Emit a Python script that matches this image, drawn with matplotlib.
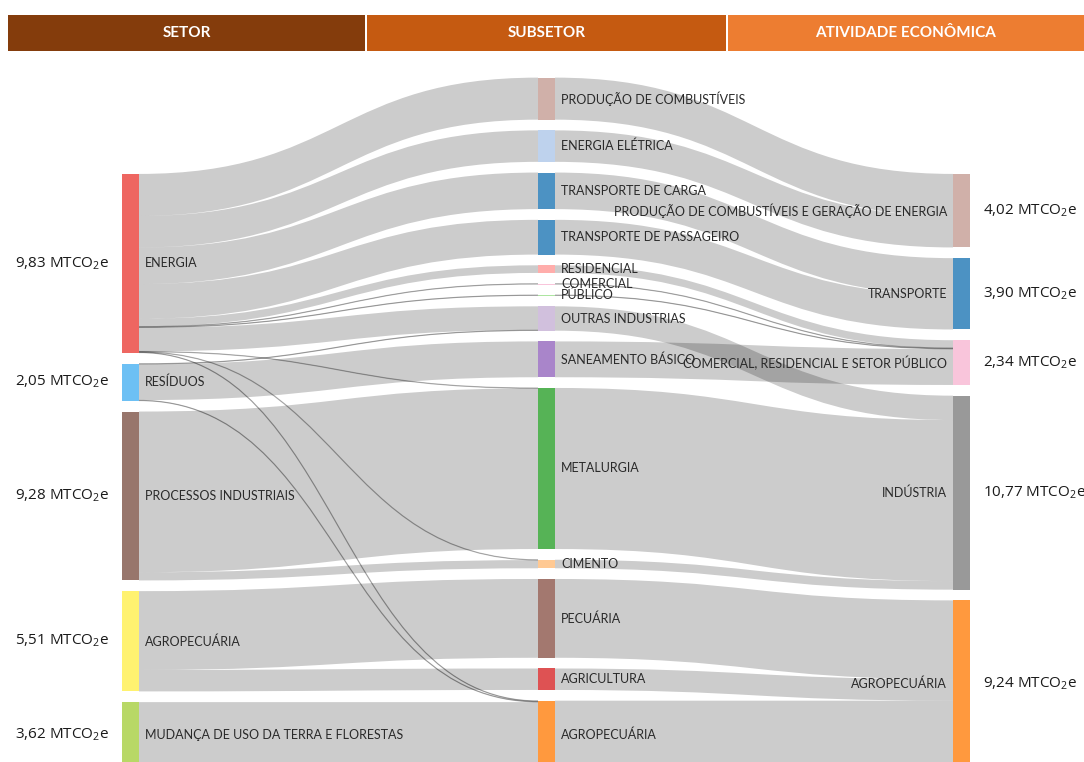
import matplotlib
matplotlib.use("Agg")
import matplotlib.pyplot as plt
from matplotlib.path import Path
from matplotlib.patches import PathPatch, Rectangle

plt.rcParams['font.family'] = ['Lato', 'DejaVu Sans']
plt.rcParams['mathtext.fontset'] = 'custom'
plt.rcParams['mathtext.rm'] = 'Open Sans'
plt.rcParams['mathtext.it'] = 'Open Sans'
plt.rcParams['mathtext.bf'] = 'Open Sans:bold'

# ---------------- data ----------------
headers = ["SETOR", "SUBSETOR", "ATIVIDADE ECONÔMICA"]
header_colors = ["#843C0C", "#C55A11", "#ED7D31"]

setores = ["ENERGIA", "RESÍDUOS", "PROCESSOS INDUSTRIAIS", "AGROPECUÁRIA",
           "MUDANÇA DE USO DA TERRA E FLORESTAS"]
setor_totais = ["9,83", "2,05", "9,28", "5,51", "3,62"]
setor_cores = ["#EE6661", "#6DC0F4", "#98766C", "#FFF270", "#B8D866"]

subsetores = ["PRODUÇÃO DE COMBUSTÍVEIS", "ENERGIA ELÉTRICA", "TRANSPORTE DE CARGA",
              "TRANSPORTE DE PASSAGEIRO", "RESIDENCIAL", "COMERCIAL", "PÚBLICO",
              "OUTRAS INDUSTRIAS", "SANEAMENTO BÁSICO", "METALURGIA", "CIMENTO",
              "PECUÁRIA", "AGRICULTURA", "AGROPECUÁRIA"]
subsetor_cores = ["#D0B0A9", "#BED2ED", "#4C92C3", "#4C92C3", "#FFADAB", "#F9C5DB",
                  "#ADE5A1", "#D1C0DD", "#A985CA", "#56B356", "#FFC993", "#A3786F",
                  "#DE5253", "#FF993E"]

atividades = ["PRODUÇÃO DE COMBUSTÍVEIS E GERAÇÃO DE ENERGIA", "TRANSPORTE",
              "COMERCIAL, RESIDENCIAL E SETOR PÚBLICO", "INDÚSTRIA", "AGROPECUÁRIA"]
atividade_totais = ["4,02", "3,90", "2,34", "10,77", "9,24"]
atividade_cores = ["#D0B0A9", "#4C92C3", "#F9C5DB", "#999999", "#FF993E"]

# setor -> subsetor  (indices)
fluxo1_origem = [0, 0, 0, 0, 0, 0, 0, 0, 0, 0, 0,
                 1, 1, 1,
                 2, 2,
                 3, 3,
                 4]
fluxo1_destino = [0, 1, 2, 3, 4, 5, 6, 7, 9, 10, 13,
                  7, 8, 13,
                  9, 10,
                  11, 12,
                  13]
fluxo1_valor = [2.31, 1.73, 2.01, 1.91, 0.42, 0.03, 0.04, 1.30, 0.02, 0.02, 0.04,
                0.04, 1.97, 0.04,
                8.83, 0.45,
                4.33, 1.18,
                3.62]

# subsetor -> atividade
fluxo2_origem = [0, 1, 2, 3, 4, 5, 6, 8, 7, 9, 10, 11, 12, 13]
fluxo2_destino = [0, 0, 1, 1, 2, 2, 2, 2, 3, 3, 3, 4, 4, 4]
fluxo2_valor = [2.31, 1.73, 2.01, 1.91, 0.42, 0.03, 0.04, 1.97, 1.34, 8.85, 0.47,
                4.33, 1.18, 3.70]

# ---------------- layout ----------------
W, H = 1084, 762
S = 18.2          # px per MtCO2e
GAP = 10.7        # px between nodes
BOTTOM = 768      # columns are bottom-aligned (slightly clipped)
COL_X = [122, 538, 953]
NODE_W = 17

fig = plt.figure(figsize=(W / 100, H / 100), dpi=100)
ax = fig.add_axes([0, 0, 1, 1])
ax.set_xlim(0, W)
ax.set_ylim(H, 0)
ax.axis('off')

cols = [setores, subsetores, atividades]
stages = [(fluxo1_origem, fluxo1_destino, fluxo1_valor),
          (fluxo2_origem, fluxo2_destino, fluxo2_valor)]

# node values = max(in, out)
node_in = [[0.0] * len(c) for c in cols]
node_out = [[0.0] * len(c) for c in cols]
for k, (o, d, v) in enumerate(stages):
    for a, b, val in zip(o, d, v):
        node_out[k][a] += val
        node_in[k + 1][b] += val
node_val = [[max(i, o) for i, o in zip(node_in[c], node_out[c])] for c in range(3)]

node_top = []
for c in range(3):
    total = sum(node_val[c]) * S + (len(node_val[c]) - 1) * GAP
    y = BOTTOM - total
    tops = []
    for v in node_val[c]:
        tops.append(y)
        y += v * S + GAP
    node_top.append(tops)

# links
for k, (o, d, v) in enumerate(stages):
    links = list(zip(o, d, v))
    out_off = {}
    in_off = {}
    order_out = sorted(range(len(links)), key=lambda i: (links[i][0], node_top[k + 1][links[i][1]]))
    cur = {}
    for i in order_out:
        a, b, val = links[i]
        y0 = cur.get(a, node_top[k][a])
        out_off[i] = y0
        cur[a] = y0 + val * S
    order_in = sorted(range(len(links)), key=lambda i: (links[i][1], node_top[k][links[i][0]]))
    cur = {}
    for i in order_in:
        a, b, val = links[i]
        y1 = cur.get(b, node_top[k + 1][b])
        in_off[i] = y1
        cur[b] = y1 + val * S
    x0 = COL_X[k] + NODE_W
    x1 = COL_X[k + 1]
    xm = (x0 + x1) / 2
    for i, (a, b, val) in enumerate(links):
        h = val * S
        ys, yt = out_off[i], in_off[i]
        verts = [(x0, ys), (xm, ys), (xm, yt), (x1, yt),
                 (x1, yt + h), (xm, yt + h), (xm, ys + h), (x0, ys + h), (x0, ys)]
        codes = [Path.MOVETO, Path.CURVE4, Path.CURVE4, Path.CURVE4,
                 Path.LINETO, Path.CURVE4, Path.CURVE4, Path.CURVE4, Path.CLOSEPOLY]
        ax.add_patch(PathPatch(Path(verts, codes), facecolor=(0, 0, 0, 0.2),
                               edgecolor='none', zorder=1))
        if h < 1.5:
            cm = [(x0, ys + h / 2), (xm, ys + h / 2), (xm, yt + h / 2), (x1, yt + h / 2)]
            ax.add_patch(PathPatch(Path(cm, [Path.MOVETO, Path.CURVE4, Path.CURVE4, Path.CURVE4]),
                                   facecolor='none', edgecolor=(0, 0, 0, 0.3), lw=0.9, zorder=1))

# nodes
node_colors = [setor_cores, subsetor_cores, atividade_cores]
for c in range(3):
    for j, v in enumerate(node_val[c]):
        ax.add_patch(Rectangle((COL_X[c], node_top[c][j]), NODE_W, max(v * S, 1.0),
                               facecolor=node_colors[c][j], edgecolor='none', zorder=2))

LBL = dict(fontsize=9, color='#2a2a2a', va='center', zorder=3)
VAL = dict(va='center', fontsize=11, color='#1a1a1a', family='Open Sans')
for j, name in enumerate(setores):
    yc = node_top[0][j] + node_val[0][j] * S / 2
    ax.text(COL_X[0] + NODE_W + 6, yc, name, ha='left', **LBL)
    ax.text(62, yc, setor_totais[j] + r" MTCO$_{2}$e", ha='center', **VAL)
for j, name in enumerate(subsetores):
    yc = node_top[1][j] + node_val[1][j] * S / 2
    ax.text(COL_X[1] + NODE_W + 6, yc, name, ha='left', **LBL)
for j, name in enumerate(atividades):
    yc = node_top[2][j] + node_val[2][j] * S / 2
    ax.text(COL_X[2] - 6, yc, name, ha='right', **LBL)
    ax.text(983, yc, atividade_totais[j] + r" MTCO$_{2}$e", ha='left', **VAL)

# header
hx = [8, 367, 728]
hw = [357, 359, 356]
for x, w, t, col in zip(hx, hw, headers, header_colors):
    ax.add_patch(Rectangle((x, 15), w, 36, facecolor=col, edgecolor='none', zorder=4))
    ax.text(x + w / 2, 33, t, ha='center', va='center', color='white',
            fontsize=11, fontweight='bold', zorder=5)

fig.savefig("out.png", dpi=100)
